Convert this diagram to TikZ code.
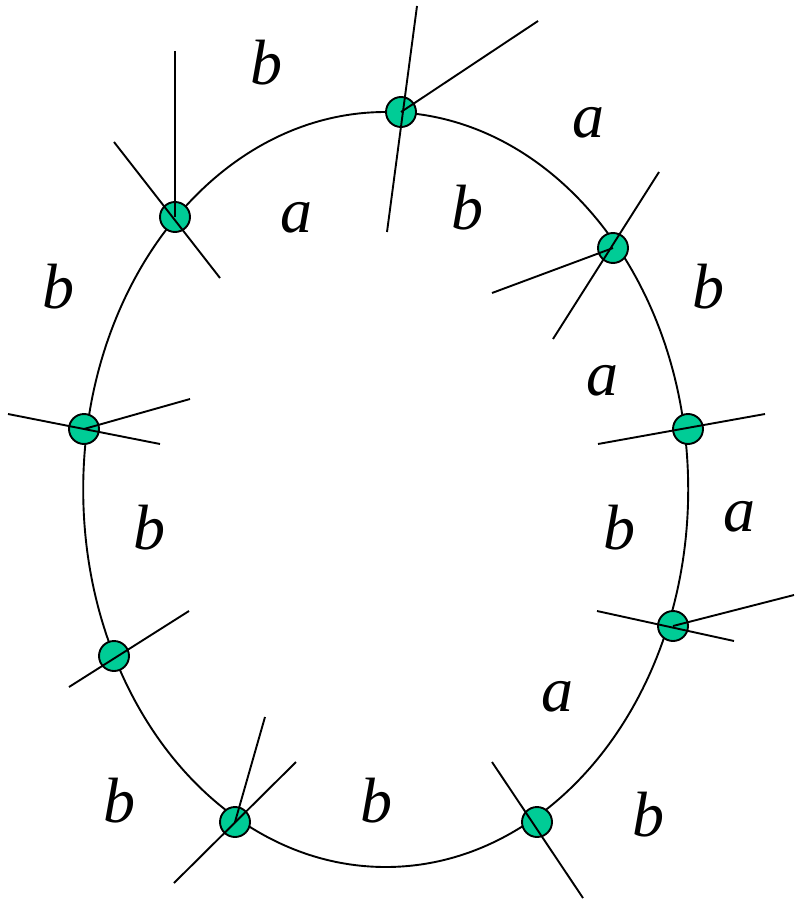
\documentclass[tikz,border=0pt]{standalone}
\usepackage{fontspec}
\setmainfont{Liberation Serif}
\definecolor{dotgreen}{RGB}{0,204,150}
\begin{document}
\begin{tikzpicture}[x=1pt,y=-1pt,
  curve/.style={line width=1.9pt},
  spoke/.style={line width=1.9pt},
  vertex/.style={circle,draw=black,line width=1.9pt,fill=dotgreen,minimum size=30pt,inner sep=0pt},
  lab/.style={inner sep=0pt,font=\fontsize{64}{70}\selectfont\itshape}]
\useasboundingbox (0,0) rectangle (795,901);
\draw[curve] (385.7,489.5) ellipse [x radius=302.5, y radius=377.5];
% vertices
\node[vertex] (v1) at (401,112) {};
\node[vertex] (v2) at (175,217) {};
\node[vertex] (v3) at (613,248) {};
\node[vertex] (v4) at (84,429) {};
\node[vertex] (v5) at (688,429) {};
\node[vertex] (v6) at (673,626) {};
\node[vertex] (v7) at (114,656) {};
\node[vertex] (v8) at (235,822) {};
\node[vertex] (v9) at (537,822) {};
% free ends
\coordinate (p1a) at (417,6);
\coordinate (p1b) at (387,232);
\coordinate (p1c) at (538,21);
\coordinate (p2a) at (175,51);
\coordinate (p2b) at (114,142);
\coordinate (p2c) at (220,278);
\coordinate (p3a) at (492,293);
\coordinate (p3b) at (659,172);
\coordinate (p3c) at (553,339);
\coordinate (p4a) at (8,414);
\coordinate (p4b) at (160,444);
\coordinate (p4c) at (190,399);
\coordinate (p5a) at (598,444);
\coordinate (p5b) at (765,414);
\coordinate (p6a) at (597,611);
\coordinate (p6b) at (734,641);
\coordinate (p6c) at (794,595);
\coordinate (p7a) at (69,687);
\coordinate (p7b) at (189,611);
\coordinate (p8a) at (265,717);
\coordinate (p8b) at (174,883);
\coordinate (p8c) at (296,762);
\coordinate (p9a) at (492,762);
\coordinate (p9b) at (583,898);
% spokes
\draw[spoke] (p1a) -- (p1b);
\draw[spoke] (v1.center) -- (p1c);
\draw[spoke] (p2a) -- (v2.center);
\draw[spoke] (p2b) -- (p2c);
\draw[spoke] (p3a) -- (v3.center);
\draw[spoke] (p3b) -- (p3c);
\draw[spoke] (p4a) -- (p4b);
\draw[spoke] (v4.center) -- (p4c);
\draw[spoke] (p5a) -- (p5b);
\draw[spoke] (p6a) -- (p6b);
\draw[spoke] (v6.center) -- (p6c);
\draw[spoke] (p7a) -- (p7b);
\draw[spoke] (v8.center) -- (p8a);
\draw[spoke] (p8b) -- (p8c);
\draw[spoke] (p9a) -- (p9b);
% labels
\node[lab] (l1) at (266,63) {b};
\node[lab] (l2) at (588,123) {a};
\node[lab] (l3) at (296,218) {a};
\node[lab] (l4) at (467,208) {b};
\node[lab] (l5) at (58,287) {b};
\node[lab] (l6) at (708,287) {b};
\node[lab] (l7) at (602,381) {a};
\node[lab] (l8) at (149,528) {b};
\node[lab] (l9) at (619,528) {b};
\node[lab] (l10) at (739,517) {a};
\node[lab] (l11) at (557,697) {a};
\node[lab] (l12) at (119,801) {b};
\node[lab] (l13) at (376,801) {b};
\node[lab] (l14) at (648,815) {b};
\end{tikzpicture}
\end{document}
